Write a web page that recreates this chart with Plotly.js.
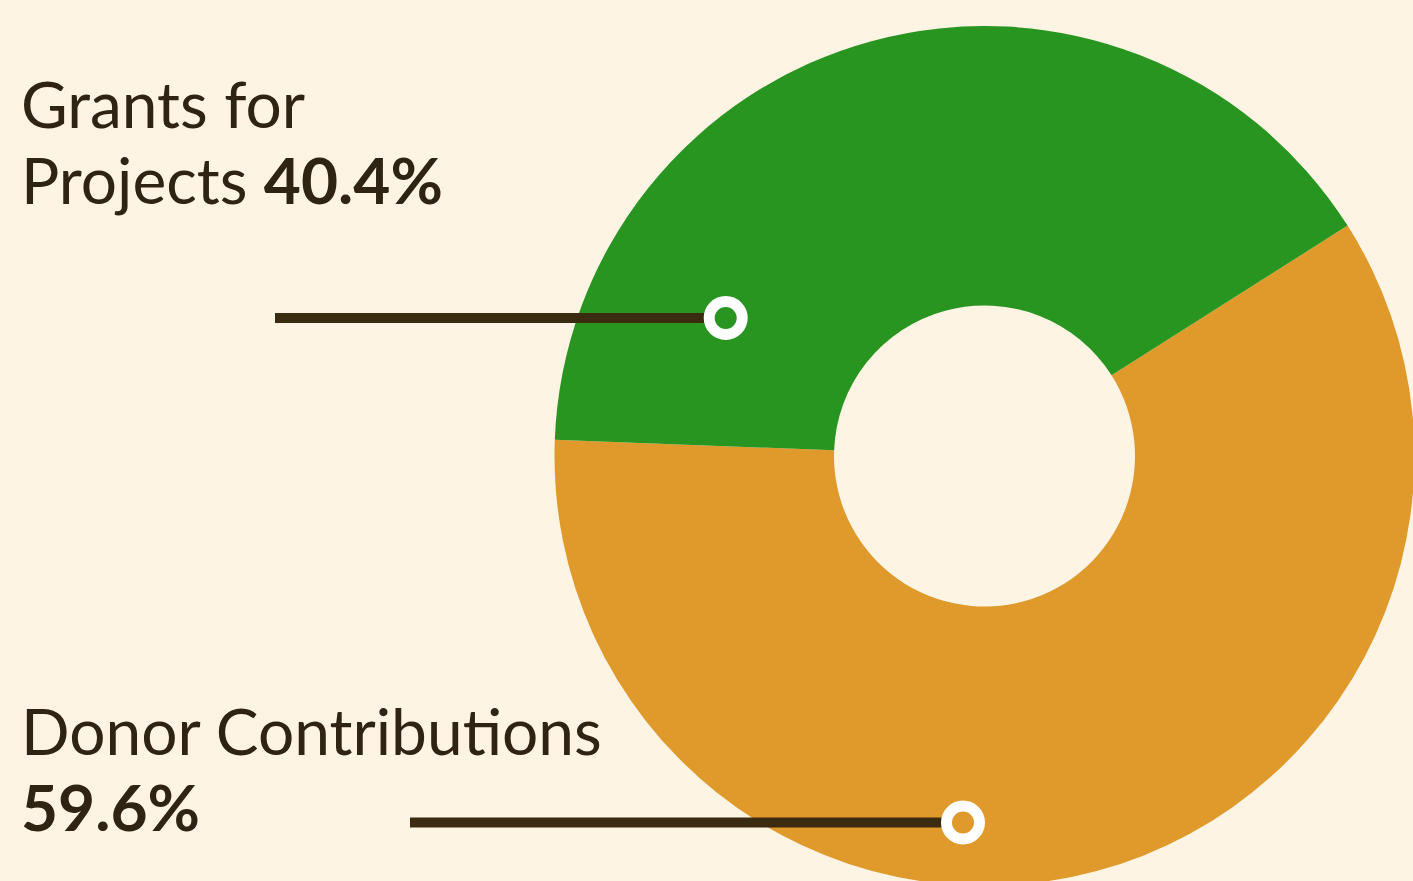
<!DOCTYPE html>
<html>
<head>
<meta charset="utf-8">
<script src="https://cdn.plot.ly/plotly-3.0.1.min.js"></script>
<style>
html,body{margin:0;padding:0;overflow:hidden;background:#fdf4e4;}
#chart{width:1420px;height:900px;}
</style>
</head>
<body>
<div id="chart"></div>
<script>
// ---- data ----
const categories = ['Donor Contributions', 'Grants for Projects'];
const values = [59.6, 40.4];
const sliceColors = ['#e0992b', '#279520'];
const labelFirstLine = ['Donor Contributions', 'Grants for'];
const labelSecondLine = ['', 'Projects '];

// ---- layout helpers (pixels -> paper) ----
const W = 1420, H = 900;
const px = x => x / W;
const py = y => 1 - y / H;
const cx = 984.5, cy = 456, R = 430;

const textColor = '#2f2311';
const lineColor = '#3a2b11';
const fontFam = 'Lato, "Open Sans", sans-serif';

const trace = {
  type: 'pie',
  labels: categories,
  values: values,
  sort: false,
  direction: 'clockwise',
  rotation: 57.6,
  hole: 0.35,
  textinfo: 'none',
  hoverinfo: 'label+percent',
  marker: {colors: sliceColors, line: {width: 0}},
  domain: {x: [px(cx - R), px(cx + R)], y: [py(cy + R), py(cy - R)]},
  showlegend: false
};

// label anchor positions and leader positions (pixels)
const labelPos = [
  {x: 19, y1: 730, y2: 806, lineX0: 410, markX: 963, markY: 822.5},
  {x: 19, y1: 103, y2: 180, lineX0: 275, markX: 725.7, markY: 318}
];

const annotations = [];
const shapes = [];
categories.forEach((c, i) => {
  const p = labelPos[i];
  const pct = '<b>' + values[i].toFixed(1) + '%</b>';
  const first = labelFirstLine[i];
  const second = labelSecondLine[i] + pct;
  annotations.push({
    xref: 'paper', yref: 'paper', x: px(p.x), y: py(p.y1),
    xanchor: 'left', yanchor: 'middle', showarrow: false,
    text: first, font: {family: fontFam, size: 64, color: textColor}
  });
  annotations.push({
    xref: 'paper', yref: 'paper', x: px(p.x), y: py(p.y2),
    xanchor: 'left', yanchor: 'middle', showarrow: false,
    text: second, font: {family: fontFam, size: 64, color: textColor}
  });
  shapes.push({
    type: 'line', xref: 'paper', yref: 'paper',
    x0: px(p.lineX0), x1: px(p.markX), y0: py(p.markY), y1: py(p.markY),
    line: {color: lineColor, width: 10}
  });
  const r = 16.5;
  shapes.push({
    type: 'circle', xref: 'paper', yref: 'paper',
    x0: px(p.markX - r), x1: px(p.markX + r), y0: py(p.markY + r), y1: py(p.markY - r),
    fillcolor: sliceColors[i], line: {color: '#ffffff', width: 11}
  });
});

const layout = {
  width: W, height: H,
  margin: {l: 0, r: 0, t: 0, b: 0},
  paper_bgcolor: '#fdf4e4',
  plot_bgcolor: '#fdf4e4',
  annotations: annotations,
  shapes: shapes,
  showlegend: false
};

Plotly.newPlot('chart', [trace], layout, {displayModeBar: false, staticPlot: true});
</script>
</body>
</html>
